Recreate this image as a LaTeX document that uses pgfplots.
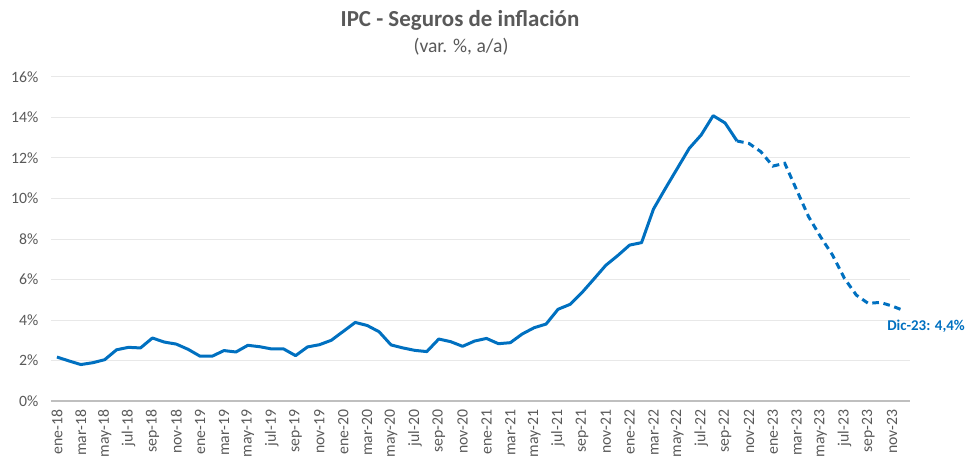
\documentclass[border=0pt]{standalone}
\usepackage{pgfplots}
\pgfplotsset{compat=1.18}
\usepackage{fontspec}
\setmainfont{Carlito}
\definecolor{linea}{HTML}{0070C0}
\definecolor{texto}{HTML}{595959}
\definecolor{grilla}{HTML}{E8E8E8}
\definecolor{eje}{HTML}{BFBFBF}

\pgfplotstableread{
m v
0 2.17
1 1.98
2 1.80
3 1.89
4 2.04
5 2.53
6 2.65
7 2.62
8 3.11
9 2.91
10 2.81
11 2.55
12 2.21
13 2.21
14 2.49
15 2.42
16 2.75
17 2.68
18 2.57
19 2.57
20 2.24
21 2.67
22 2.78
23 3.00
24 3.44
25 3.88
26 3.73
27 3.42
28 2.77
29 2.62
30 2.50
31 2.44
32 3.06
33 2.93
34 2.70
35 2.96
36 3.09
37 2.83
38 2.88
39 3.31
40 3.62
41 3.80
42 4.53
43 4.77
44 5.35
45 6.02
46 6.70
47 7.18
48 7.70
49 7.82
50 9.48
51 10.50
52 11.49
53 12.48
54 13.14
55 14.09
56 13.73
57 12.84
}\observado

\pgfplotstableread{
m v
57 12.84
58 12.72
59 12.31
60 11.60
61 11.74
62 10.42
63 9.10
64 8.11
65 7.21
66 6.06
67 5.23
68 4.82
69 4.87
70 4.69
71 4.46
}\esperado

\begin{document}
\begin{tikzpicture}
\path[use as bounding box] (-38.25pt,-44.25pt) rectangle (688.5pt,300.75pt);
\begin{axis}[
  at={(0,0)}, anchor=south west,
  scale only axis, width=644.25pt, height=243pt,
  xmin=-0.5, xmax=71.5, ymin=0, ymax=16,
  ytick={0,2,...,16},
  yticklabel={\pgfmathprintnumber{\tick}\%},
  /pgf/number format/assume math mode=true,
  xtick={0,2,...,70},
  xticklabels={ene-18,mar-18,may-18,jul-18,sep-18,nov-18,
    ene-19,mar-19,may-19,jul-19,sep-19,nov-19,
    ene-20,mar-20,may-20,jul-20,sep-20,nov-20,
    ene-21,mar-21,may-21,jul-21,sep-21,nov-21,
    ene-22,mar-22,may-22,jul-22,sep-22,nov-22,
    ene-23,mar-23,may-23,jul-23,sep-23,nov-23},
  x tick label style={rotate=90, anchor=east},
  xticklabel shift=3pt,
  yticklabel shift=6pt,
  tick label style={font=\fontsize{11.8}{14}\selectfont, text=texto},
  ymajorgrids, grid style={grilla, line width=0.75pt},
  axis x line*=bottom, axis y line*=left,
  x axis line style={eje, line width=1.5pt, -},
  y axis line style={draw=none},
  major tick length=0pt,
  clip=false,
]
\addplot[linea, line width=2.25pt, line join=round] table[x=m, y=v] {\observado};
\addplot[linea, line width=2.25pt, dash pattern=on 5pt off 3.5pt] table[x=m, y=v] {\esperado};
\node[anchor=west, text=linea, font=\fontsize{11.2}{13}\selectfont\bfseries]
  at (axis cs:69.2,3.7) {Dic-23: 4,4\%};
\end{axis}
\node[text=texto, font=\fontsize{17.2}{20}\selectfont\bfseries] at (306.75pt,285.75pt) {IPC - Seguros de inflación};
\node[text=texto, font=\fontsize{14.7}{17}\selectfont] at (307.5pt,265.5pt) {(var. \%, a/a)};
\end{tikzpicture}
\end{document}
